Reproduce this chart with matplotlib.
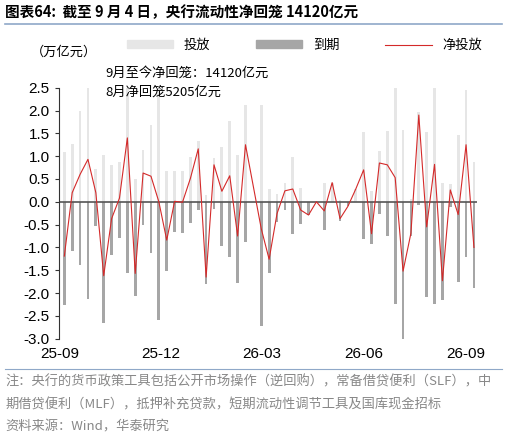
import matplotlib
matplotlib.use("Agg")
import matplotlib.pyplot as plt
import numpy as np
from matplotlib.patches import Patch
from matplotlib.lines import Line2D

plt.rcParams['font.family'] = ['Noto Sans CJK SC', 'DejaVu Sans']

# week index (week 24 has no operation data point)
weeks = [0,1,2,3,4,5,6,7,8,9,10,11,12,13,14,15,16,17,18,19,20,21,22,23,
         25,26,27,28,29,30,31,32,33,34,35,36,37,38,39,40,41,42,43,44,45,46,47,48,49,50,51,52]
inject = [1.08,1.27,1.99,3.06,0.72,1.03,0.80,0.88,2.97,0.50,1.13,1.68,2.58,0.68,0.68,0.67,
          0.98,1.33,0.15,0.96,1.19,1.77,1.02,2.13,
          2.13,0.29,0.18,0.42,0.99,0.31,0.0,0.0,0.42,0.42,0.05,0.0,0.28,1.52,0.23,1.12,1.55,
          2.78,1.58,0.07,1.97,1.53,3.05,0.42,0.38,1.47,2.45,0.88]
mature = [-2.27,-1.07,-1.39,-2.13,-0.52,-2.65,-1.17,-0.80,-1.57,-2.07,-0.50,-1.12,-2.58,-1.52,
          -0.67,-0.68,-0.47,-0.17,-1.80,-0.15,-0.96,-1.20,-1.77,-0.88,
          -2.72,-1.55,-0.44,-0.18,-0.71,-0.49,-0.29,0.0,-0.62,0.0,-0.42,-0.10,0.0,-0.82,-0.93,
          -0.27,-0.74,-2.25,-3.10,-0.76,-0.07,-2.08,-2.23,-2.15,-0.12,-1.75,-1.20,-1.88]
net = [a + b for a, b in zip(inject, mature)]
tick_pos = [-0.6, 12.25, 25, 38, 51]
tick_labels = ['25-09', '25-12', '26-03', '26-06', '26-09']

fig = plt.figure(figsize=(5.07, 4.32), dpi=100)
ax = fig.add_axes([0.116, 0.216, 0.825, 0.581])
x = np.array(weeks)
ax.bar(x, inject, width=0.35, color='#e6e6e6', zorder=1)
ax.bar(x, mature, width=0.35, color='#a6a6a6', zorder=1)
ax.plot(x, net, color='#d42a2a', lw=0.8, zorder=3)
ax.axhline(0, color='#555555', lw=1.2, zorder=2)
ax.set_xlim(-0.7, 52.4)
ax.set_ylim(-3.0, 2.5)
ax.set_yticks(np.arange(-3.0, 2.51, 0.5))
ax.set_yticklabels([f'{v:.1f}' for v in np.arange(-3.0, 2.51, 0.5)], family='Liberation Sans', fontsize=11)
ax.set_xticks(tick_pos)
ax.set_xticklabels(tick_labels, family='Liberation Sans', fontsize=11)
ax.tick_params(axis='x', length=0, pad=6)
ax.tick_params(axis='y', length=3, color='#333333')
for s in ['top', 'right', 'bottom']:
    ax.spines[s].set_visible(False)
ax.spines['left'].set_color('#333333')

fig.text(0.207, 0.831, '9月至今净回笼：14120亿元', fontsize=9.5, va='center')
fig.text(0.207, 0.787, '8月净回笼5205亿元', fontsize=9.5, va='center')

handles = [Patch(color='#e6e6e6'), Patch(color='#a6a6a6'), Line2D([], [], color='#d42a2a', lw=0.8)]
fig.legend(handles, ['投放', '到期', '净投放'], loc='center', bbox_to_anchor=(0.6, 0.895), ncol=3,
           frameon=False, fontsize=9.5, handlelength=3.5, handleheight=0.5, columnspacing=3.5)
fig.text(0.06, 0.878, '（万亿元）', fontsize=9.5, va='center')

fig.text(0.01, 0.972, '图表64:  截至 9 月 4 日，央行流动性净回笼 14120亿元', fontsize=10.5, weight='bold', va='center')
fig.add_artist(Line2D([0.01, 0.99], [0.945, 0.945], color='#8fa8c8', lw=1.2))
fig.add_artist(Line2D([0.01, 0.99], [0.146, 0.146], color='#8fa8c8', lw=0.8))
fig.text(0.01, 0.116, '注：央行的货币政策工具包括公开市场操作（逆回购），常备借贷便利（SLF），中', fontsize=9.5, color='#888888', va='center')
fig.text(0.01, 0.062, '期借贷便利（MLF），抵押补充贷款，短期流动性调节工具及国库现金招标', fontsize=9.5, color='#888888', va='center')
fig.text(0.01, 0.012, '资料来源：Wind，华泰研究', fontsize=9.5, color='#888888', va='center')
fig.savefig('out.png', dpi=100)
